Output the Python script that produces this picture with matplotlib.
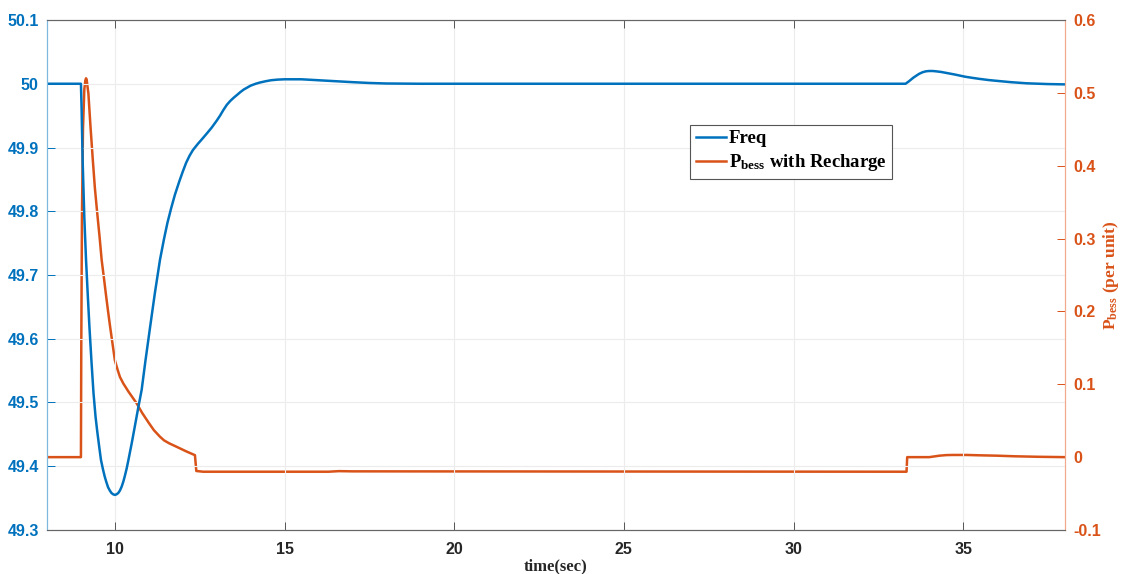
import numpy as np
import matplotlib
matplotlib.use('Agg')
import matplotlib.pyplot as plt

# frequency trace (Hz)
t_freq = [8.0, 9.0, 9.02, 9.05, 9.1, 9.15, 9.2, 9.25, 9.31, 9.37, 9.43, 9.48, 9.54, 9.59,
          9.65, 9.7, 9.75, 9.8, 9.85, 9.9, 9.95, 10.0, 10.05, 10.1, 10.15, 10.2, 10.25, 10.3,
          10.35, 10.4, 10.5, 10.6, 10.7, 10.79, 10.9, 11.04, 11.18, 11.33, 11.45, 11.55,
          11.66, 11.77, 11.9, 12.0, 12.1, 12.2, 12.3, 12.36, 12.45, 12.55, 12.71, 12.85, 13.0,
          13.1, 13.2, 13.3, 13.4, 13.5, 13.59, 13.7, 13.8, 13.9, 14.0, 14.15, 14.28, 14.45,
          14.6, 14.8, 15.0, 15.5, 16.0, 16.5, 17.0, 17.5, 18.0, 19.0, 25.0, 33.3, 33.38,
          33.45, 33.53, 33.6, 33.7, 33.8, 33.9, 34.0, 34.1, 34.2, 34.35, 34.5, 34.75, 35.06,
          35.3, 35.5, 35.75, 36.0, 36.4, 36.87, 37.5, 38.0]
freq = [50.0, 50.0, 49.96, 49.88, 49.79, 49.724, 49.67, 49.619, 49.565, 49.515, 49.478,
        49.455, 49.43, 49.41, 49.395, 49.384, 49.375, 49.367, 49.362, 49.358, 49.356,
        49.355, 49.356, 49.358, 49.362, 49.368, 49.376, 49.386, 49.397, 49.41, 49.437,
        49.466, 49.495, 49.52, 49.565, 49.619, 49.672, 49.724, 49.757, 49.782, 49.805,
        49.826, 49.847, 49.862, 49.876, 49.887, 49.896, 49.90, 49.906, 49.912, 49.922,
        49.931, 49.942, 49.950, 49.959, 49.967, 49.973, 49.978, 49.982, 49.987, 49.991,
        49.994, 49.997, 50.0, 50.002, 50.004, 50.0055, 50.0065, 50.007, 50.007, 50.0055,
        50.004, 50.0025, 50.0012, 50.0004, 50.0, 50.0, 50.0, 50.003, 50.006, 50.0095,
        50.012, 50.0155, 50.018, 50.0195, 50.020, 50.020, 50.0195, 50.0185, 50.017,
        50.0145, 50.011, 50.009, 50.0075, 50.0058, 50.0045, 50.0025, 50.0007, 49.9995,
        49.999]

# battery power with recharge (per unit)
t_pb = [8.0, 9.0, 9.01, 9.03, 9.06, 9.1, 9.13, 9.15, 9.17, 9.19, 9.22, 9.28, 9.35, 9.41,
        9.48, 9.55, 9.61, 9.68, 9.74, 9.8, 9.86, 9.93, 10.0, 10.08, 10.15, 10.25, 10.4,
        10.52, 10.64, 10.8, 11.0, 11.15, 11.33, 11.45, 11.6, 11.82, 12.1, 12.36, 12.4, 12.6,
        16.3, 16.6, 17.0, 33.33, 33.35, 34.0, 34.15, 34.3, 34.5, 34.7, 35.1, 35.5, 36.0,
        36.5, 37.2, 38.0]
p_bess = [0.0, 0.0, 0.15, 0.33, 0.45, 0.505, 0.517, 0.52, 0.518, 0.51, 0.499, 0.455, 0.408,
          0.37, 0.335, 0.302, 0.271, 0.245, 0.222, 0.2, 0.179, 0.156, 0.133, 0.12, 0.110,
          0.101, 0.090, 0.082, 0.074, 0.061, 0.047, 0.037, 0.028, 0.023, 0.019, 0.0142,
          0.008, 0.0027, -0.019, -0.020, -0.020, -0.0192, -0.0195, -0.020, 0.0, 0.0, 0.001,
          0.002, 0.0028, 0.003, 0.003, 0.0025, 0.002, 0.0012, 0.0005, 0.0]

blue = '#0072BD'
orange = '#D95319'

plt.rcParams['mathtext.fontset'] = 'custom'
plt.rcParams['mathtext.rm'] = 'Liberation Serif'
plt.rcParams['mathtext.bf'] = 'Liberation Serif:bold'
plt.rcParams['mathtext.it'] = 'Liberation Serif:italic'

fig = plt.figure(figsize=(11.26, 5.74), dpi=100)
ax = fig.add_axes([47/1126, 1-530/574, 1018/1126, 510/574])
ax2 = ax.twinx()

l1, = ax.plot(t_freq, freq, color=blue, lw=1.8, label='Freq')
l2, = ax2.plot(t_pb, p_bess, color=orange, lw=1.8, label=r'$\mathbf{P_{bess}}$ with Recharge')

ax.set_xlim(8, 38)
ax.set_ylim(49.3, 50.1)
ax2.set_ylim(-0.1, 0.6)
ax.set_xticks([10, 15, 20, 25, 30, 35])
ax.set_yticks(np.round(np.arange(49.3, 50.11, 0.1), 1))
ax.set_yticklabels(['49.3', '49.4', '49.5', '49.6', '49.7', '49.8', '49.9', '50', '50.1'])
ax2.set_yticks(np.round(np.arange(-0.1, 0.61, 0.1), 1))
ax2.set_yticklabels(['-0.1', '0', '0.1', '0.2', '0.3', '0.4', '0.5', '0.6'])

ax.grid(True, color='#ececec', lw=0.8)
ax.set_axisbelow(True)

tickfont = dict(family='Liberation Sans', weight='bold', size=11.5)
for lab in ax.get_xticklabels():
    lab.set(**tickfont, color='#262626')
for lab in ax.get_yticklabels():
    lab.set(**tickfont, color=blue)
for lab in ax2.get_yticklabels():
    lab.set(**tickfont, color=orange)

ax.tick_params(axis='x', direction='in', top=True, length=6, width=0.7, color='#555555', pad=9)
ax.tick_params(axis='y', direction='in', length=6, width=0.7, color=blue, pad=6)
ax2.tick_params(axis='y', direction='in', length=6, width=0.7, color=orange, pad=6)

for a in (ax, ax2):
    a.spines['top'].set_color('#666666')
    a.spines['bottom'].set_color('#666666')
    a.spines['left'].set_color('#7fb8de')
    a.spines['right'].set_color('#f0a98a')
    for s in a.spines.values():
        s.set_linewidth(0.8)

ax.set_xlabel('time(sec)', family='Liberation Serif', weight='bold', size=12, color='#262626')
ax.xaxis.set_label_coords(0.5, -0.055)
ax2.set_ylabel(r'$\mathbf{P_{bess}}$ (per unit)', family='Liberation Serif', weight='bold',
               size=12.5, color=orange)
ax2.yaxis.set_label_coords(1.035, 0.5)

leg = ax.legend([l1, l2], ['Freq', r'$\mathbf{P_{bess}}$ with Recharge'],
                loc='upper left', bbox_to_anchor=(0.6225, 0.813), fancybox=False,
                edgecolor='#555555', framealpha=1, handlelength=1.6, handletextpad=0.15,
                borderpad=0.3, labelspacing=0.25,
                prop=dict(family='Liberation Serif', weight='bold', size=13.5))
leg.get_frame().set_linewidth(0.8)
ax.set_zorder(ax2.get_zorder() + 1)
ax.patch.set_visible(False)

plt.savefig('out.png', dpi=100)
plt.close()
